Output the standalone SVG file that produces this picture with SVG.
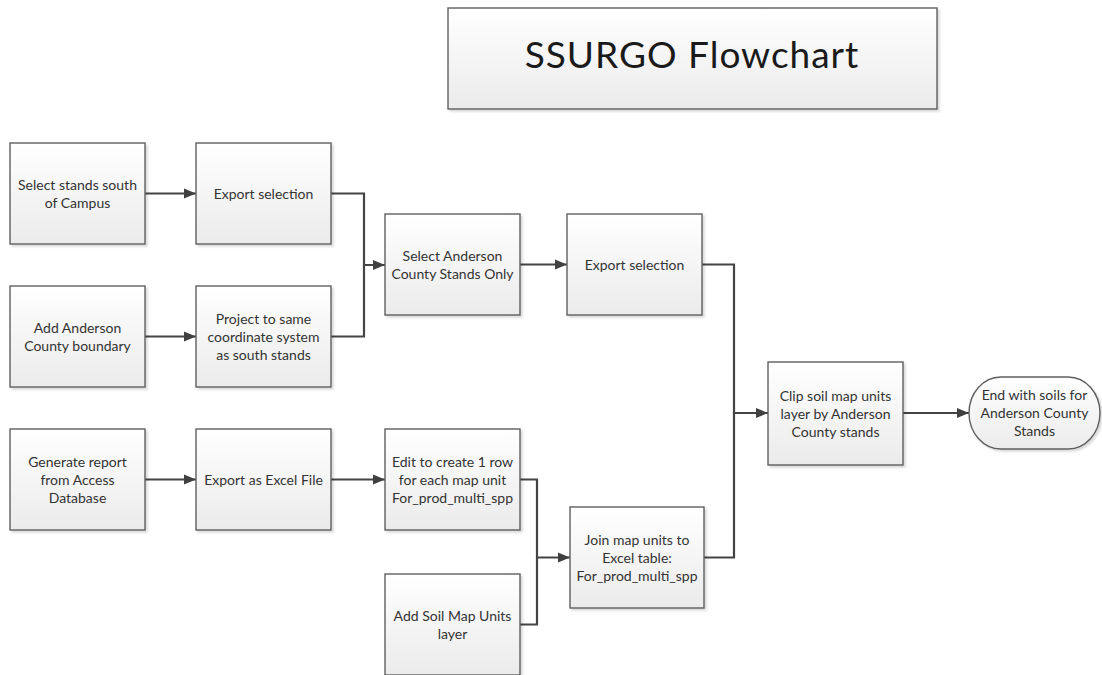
<svg xmlns="http://www.w3.org/2000/svg" width="1102" height="675" viewBox="0 0 1102 675">
<defs>
<linearGradient id="g" x1="0" y1="0" x2="0" y2="1">
<stop offset="0" stop-color="#ffffff"/>
<stop offset="1" stop-color="#ebebeb"/>
</linearGradient>
<filter id="sh" x="-10%" y="-10%" width="120%" height="120%">
<feDropShadow dx="2" dy="2" stdDeviation="1" flood-color="#000" flood-opacity="0.15"/>
</filter>
<marker id="ar" markerUnits="userSpaceOnUse" markerWidth="14" markerHeight="14" refX="12" refY="7" orient="auto">
<path d="M0,2 L12,7 L0,12 Z" fill="#404040"/>
</marker>
<style>
.b{fill:url(#g);stroke:#5f5f5f;stroke-width:1.4;filter:url(#sh)}
.t{font-family:Lato,"Open Sans",sans-serif;font-size:14px;fill:#333;text-anchor:middle}
.c{fill:none;stroke:#444;stroke-width:2.2}
.a{marker-end:url(#ar)}
</style>
</defs>
<rect width="1102" height="675" fill="#fff"/>
<g id="title">
<rect class="b" x="448" y="8" width="489" height="101"/>
<text x="692" y="68" font-family="Lato,'Open Sans',sans-serif" font-size="37" letter-spacing="1" fill="#1a1a1a" text-anchor="middle">SSURGO Flowchart</text>
</g>
<g id="connectors">
<path class="c a" d="M145,193.5 H196"/>
<path class="c a" d="M145,336.5 H196"/>
<path class="c a" d="M331,193.5 H364 V265 H385"/>
<path class="c" d="M331,336.5 H364 V265"/>
<path class="c a" d="M520,264.5 H567"/>
<path class="c a" d="M702,264.5 H734 V413 H768"/>
<path class="c" d="M704,557.5 H734 V413"/>
<path class="c a" d="M903,413 H969"/>
<path class="c a" d="M145,479.5 H196"/>
<path class="c a" d="M331,479.5 H385"/>
<path class="c a" d="M520,479.5 H537 V557.5 H570"/>
<path class="c" d="M520,624.5 H537 V557.5"/>
</g>
<g id="n1">
<rect class="b" x="10" y="143" width="135" height="101"/>
<text class="t" x="77.5" y="189.5">Select stands south</text>
<text class="t" x="77.5" y="207.5">of Campus</text>
</g>
<g id="n2">
<rect class="b" x="196" y="143" width="135" height="101"/>
<text class="t" x="263.5" y="198.5">Export selection</text>
</g>
<g id="n3">
<rect class="b" x="10" y="286" width="135" height="101"/>
<text class="t" x="77.5" y="332.5">Add Anderson</text>
<text class="t" x="77.5" y="350.5">County boundary</text>
</g>
<g id="n4">
<rect class="b" x="196" y="286" width="135" height="101"/>
<text class="t" x="263.5" y="323.5">Project to same</text>
<text class="t" x="263.5" y="341.5">coordinate system</text>
<text class="t" x="263.5" y="359.5">as south stands</text>
</g>
<g id="n5">
<rect class="b" x="385" y="214" width="135" height="101"/>
<text class="t" x="452.5" y="260.5">Select Anderson</text>
<text class="t" x="452.5" y="278.5">County Stands Only</text>
</g>
<g id="n6">
<rect class="b" x="567" y="214" width="135" height="101"/>
<text class="t" x="634.5" y="269.5">Export selection</text>
</g>
<g id="n7">
<rect class="b" x="10" y="429" width="135" height="101"/>
<text class="t" x="77.5" y="466.5">Generate report</text>
<text class="t" x="77.5" y="484.5">from Access</text>
<text class="t" x="77.5" y="502.5">Database</text>
</g>
<g id="n8">
<rect class="b" x="196" y="429" width="135" height="101"/>
<text class="t" x="263.5" y="484.5">Export as Excel File</text>
</g>
<g id="n9">
<rect class="b" x="385" y="429" width="135" height="101"/>
<text class="t" x="452.5" y="466.5">Edit to create 1 row</text>
<text class="t" x="452.5" y="484.5">for each map unit</text>
<text class="t" x="452.5" y="502.5">For_prod_multi_spp</text>
</g>
<g id="n10">
<rect class="b" x="570" y="507" width="134" height="101"/>
<text class="t" x="637" y="544.5">Join map units to</text>
<text class="t" x="637" y="562.5">Excel table:</text>
<text class="t" x="637" y="580.5">For_prod_multi_spp</text>
</g>
<g id="n11">
<rect class="b" x="385" y="574" width="135" height="101"/>
<text class="t" x="452.5" y="620.5">Add Soil Map Units</text>
<text class="t" x="452.5" y="638.5">layer</text>
</g>
<g id="n12">
<rect class="b" x="768" y="362" width="135" height="103"/>
<text class="t" x="835.5" y="400.5">Clip soil map units</text>
<text class="t" x="835.5" y="418.5">layer by Anderson</text>
<text class="t" x="835.5" y="436.5">County stands</text>
</g>
<g id="n13">
<rect class="b" x="969" y="377" width="131" height="72" rx="32" ry="36"/>
<text class="t" x="1034.5" y="400">End with soils for</text>
<text class="t" x="1034.5" y="418">Anderson County</text>
<text class="t" x="1034.5" y="436">Stands</text>
</g>
</svg>
